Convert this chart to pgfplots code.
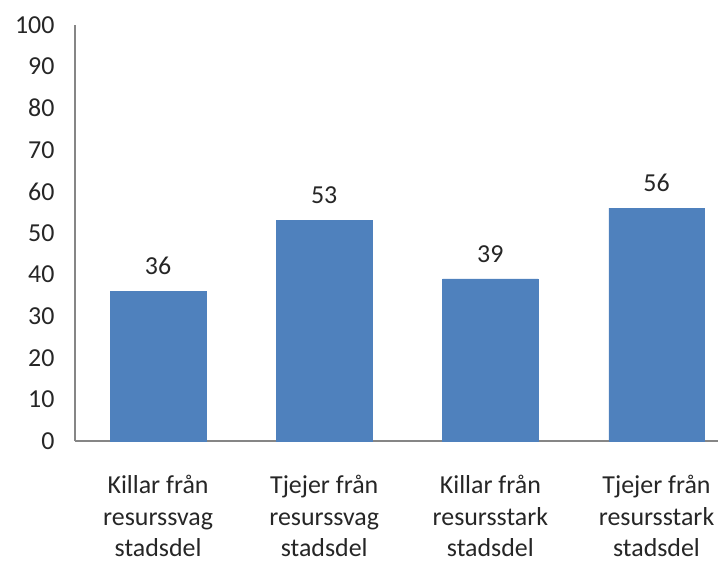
\documentclass[border=0pt]{standalone}
\usepackage{pgfplots}
\pgfplotsset{compat=1.18}
\usepackage{fontspec}
\setmainfont{Carlito}
\definecolor{barblue}{HTML}{4F81BD}
\definecolor{axgray}{HTML}{868686}
\begin{document}
\begin{tikzpicture}[x=1bp,y=1bp]
\begin{axis}[
  scale only axis,
  width=643bp, height=416bp,
  at={(0,0)}, anchor=south west,
  ymin=0, ymax=100, ytick={0,10,...,100},
  xmin=-0.5, xmax=3.37,
  xtick=data,
  xticklabels={{Killar från\\resurssvag\\stadsdel},{Tjejer från\\resurssvag\\stadsdel},{Killar från\\resursstark\\stadsdel},{Tjejer från\\resursstark\\stadsdel}},
  axis x line=bottom, axis y line=left,
  axis line style={-, axgray, line width=1.2bp},
  major tick length=0pt,
  /pgf/number format/assume math mode=true,
  tick label style={font=\fontsize{26}{31.5}\selectfont, black!85},
  yticklabel style={anchor=east, xshift=-17bp},
  xticklabel style={align=center, anchor=north, yshift=-31bp},
  ybar, bar width=0.575, bar shift=0pt,
  nodes near coords,
  nodes near coords style={font=\fontsize{26}{31.5}\selectfont, black!85, yshift=13bp},
  clip=false,
]
\addplot[fill=barblue, draw=barblue] coordinates {(0,36) (1,53) (2,39) (3,56)};
\end{axis}
\pgfresetboundingbox
\useasboundingbox (-75bp,-121bp) rectangle (643bp,441bp);
\end{tikzpicture}
\end{document}
